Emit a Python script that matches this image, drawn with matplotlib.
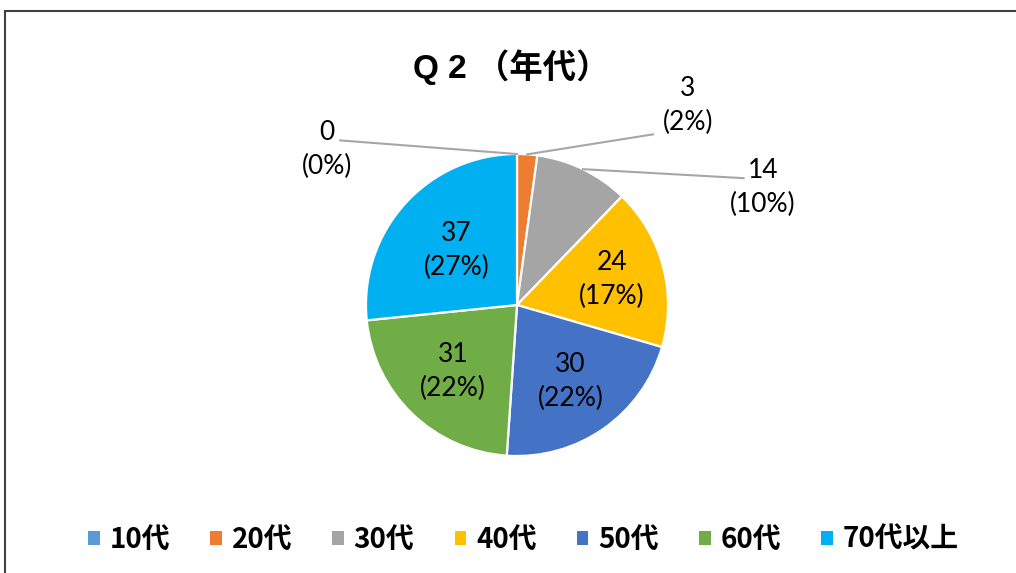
import matplotlib
matplotlib.use('Agg')
import matplotlib.pyplot as plt
from matplotlib.patches import Patch, Rectangle
import numpy as np

plt.rcParams['font.family'] = ['Noto Sans CJK JP', 'DejaVu Sans']

# data
labels = ['10代', '20代', '30代', '40代', '50代', '60代', '70代以上']
values = [0, 3, 14, 24, 30, 31, 37]
colors = ['#5B9BD5', '#ED7D31', '#A5A5A5', '#FFC000', '#4472C4', '#70AD47', '#00B0F0']
title = 'Q 2 （年代）'

# label placement (style): inside radius, or outside text pos + leader end
inside_r = {3: 0.65, 4: 0.62, 5: 0.61, 6: 0.54}
outside_txt = {0: (-1.26, 1.03), 1: (1.13, 1.32), 2: (1.63, 0.78)}
outside_end = {0: (-1.17, 1.09), 1: (0.90, 1.13), 2: (1.50, 0.84)}

fig = plt.figure(figsize=(10.16, 5.73), dpi=100)
cx, cy, R = 517, 305, 151
ax = fig.add_axes([0, 0, 1, 1])

wedges, _ = ax.pie(values, colors=colors, startangle=90, counterclock=False,
                   radius=1.0, wedgeprops=dict(edgecolor='white', linewidth=1.6))
ax.set_aspect('auto')
ax.set_xlim(-cx / R, (1016 - cx) / R)
ax.set_ylim(-(573 - cy) / R, cy / R)
ax.axis('off')

lbl_font = ['Lato', 'DejaVu Sans']
total = sum(values)
for i, w in enumerate(wedges):
    ang = np.deg2rad((w.theta1 + w.theta2) / 2)
    s = '%d\n(%d%%)' % (values[i], round(values[i] / total * 100))
    if i in inside_r:
        r = inside_r[i]
        ax.text(r * np.cos(ang), r * np.sin(ang), s, ha='center', va='center',
                fontsize=19, linespacing=1.45, color='#000000', family=lbl_font)
    else:
        tx, ty = outside_txt[i]
        ex, ey = outside_end[i]
        ax.plot([np.cos(ang) * 1.0, ex], [np.sin(ang) * 1.0, ey], color='#A6A6A6', lw=1.5)
        ax.text(tx, ty, s, ha='center', va='center', fontsize=19, linespacing=1.45,
                color='#000000', family=lbl_font)

fig.text(0.503, 0.883, title, ha='center', va='center', fontsize=24, fontweight='bold',
         family=['Liberation Sans', 'Noto Sans CJK JP'])

handles = [Patch(facecolor=c, edgecolor='none') for c in colors]
fig.legend(handles, labels, loc='center', bbox_to_anchor=(0.515, 0.058), ncol=7,
           frameon=False, prop={'weight': 'bold', 'size': 20},
           handlelength=0.42, handleheight=0.42, handletextpad=0.35, columnspacing=1.45)

fig.patches.append(Rectangle((5 / 1016, -0.1), 1.2, (573 - 11) / 573 + 0.1,
                             transform=fig.transFigure, fill=False,
                             edgecolor='#404040', linewidth=1.5, clip_on=False))

fig.savefig('out.png', dpi=100)
